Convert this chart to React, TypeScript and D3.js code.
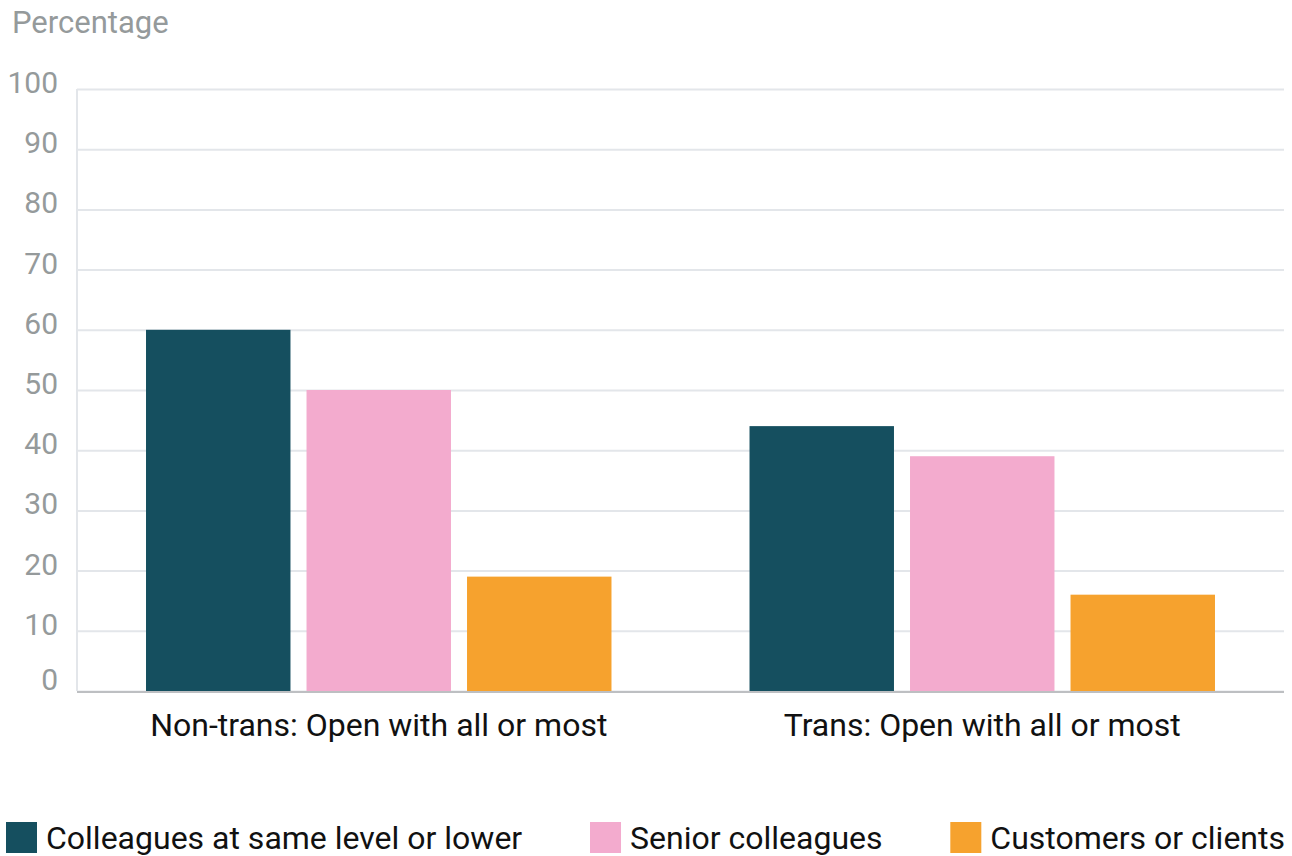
import React, { useRef, useEffect } from "react";
import * as d3 from "d3";

const WIDTH = 1292;
const HEIGHT = 856;
const MARGIN = { top: 89, right: 8, bottom: 165, left: 77 };

const categories = ["Non-trans: Open with all or most", "Trans: Open with all or most"];
const seriesNames = ["Colleagues at same level or lower", "Senior colleagues", "Customers or clients"];
const colleaguesLower = [60, 44];
const seniorColleagues = [50, 39];
const customers = [19, 16];
const seriesValues = [colleaguesLower, seniorColleagues, customers];
const colors = ["#154f5f", "#f3abce", "#f6a22e"];
const yTicks = [0, 10, 20, 30, 40, 50, 60, 70, 80, 90, 100];

export default function App() {
  const svgRef = useRef<SVGSVGElement | null>(null);

  useEffect(() => {
    document.body.style.margin = "0";
    const svg = d3.select(svgRef.current);
    svg.selectAll("*").remove();
    const font = "Roboto, 'Noto Sans', sans-serif";

    const x0 = d3
      .scaleBand()
      .domain(categories)
      .range([MARGIN.left, WIDTH - MARGIN.right])
      .paddingInner(0)
      .paddingOuter(0);
    const x1 = d3
      .scaleBand()
      .domain(seriesNames)
      .range([0, x0.bandwidth()])
      .paddingInner(0.1)
      .paddingOuter(0.43);
    const y = d3
      .scaleLinear()
      .domain([0, 100])
      .range([HEIGHT - MARGIN.bottom, MARGIN.top]);

    // Grid
    svg
      .append("g")
      .attr("class", "grid")
      .attr("transform", `translate(${MARGIN.left},0)`)
      .call(
        d3
          .axisLeft(y)
          .tickValues(yTicks)
          .tickSize(-(WIDTH - MARGIN.left - MARGIN.right))
          .tickFormat(() => "")
      );
    svg.selectAll(".grid line")
      .attr("stroke", "#e3e6ea")
      .attr("stroke-width", 2);
    svg.selectAll(".grid path").remove();

    // left axis line
    svg
      .append("line")
      .attr("x1", MARGIN.left)
      .attr("x2", MARGIN.left)
      .attr("y1", y(100))
      .attr("y2", y(0))
      .attr("stroke", "#e3e6ea")
      .attr("stroke-width", 2);

    // y labels
    svg
      .append("g")
      .selectAll("text")
      .data(yTicks)
      .enter()
      .append("text")
      .attr("x", 58)
      .attr("y", (d) => (d === 0 ? y(d) - 1 : y(d) + 4))
      .attr("text-anchor", "end")
      .attr("font-family", font)
      .attr("font-size", 30)
      .attr("fill", "#959a9b")
      .text((d) => d);

    svg
      .append("text")
      .attr("x", 12)
      .attr("y", 33)
      .attr("font-family", font)
      .attr("font-size", 31)
      .attr("fill", "#959a9b")
      .text("Percentage");

    // Bars
    const groups = svg
      .append("g")
      .selectAll("g")
      .data(categories)
      .enter()
      .append("g")
      .attr("transform", (d) => `translate(${x0(d)},0)`);
    groups
      .selectAll("rect")
      .data((_, i) => seriesNames.map((s, j) => ({ s, j, v: seriesValues[j][i] })))
      .enter()
      .append("rect")
      .attr("x", (d) => x1(d.s)!)
      .attr("width", x1.bandwidth())
      .attr("y", (d) => y(d.v))
      .attr("height", (d) => y(0) - y(d.v))
      .attr("fill", (d) => colors[d.j]);

    // bottom axis line
    svg
      .append("line")
      .attr("x1", MARGIN.left)
      .attr("x2", WIDTH - MARGIN.right)
      .attr("y1", y(0) + 1)
      .attr("y2", y(0) + 1)
      .attr("stroke", "#bdbfc2")
      .attr("stroke-width", 2);

    // category labels
    svg
      .append("g")
      .selectAll("text")
      .data(categories)
      .enter()
      .append("text")
      .attr("x", (d) => x0(d)! + x0.bandwidth() / 2)
      .attr("y", 736)
      .attr("text-anchor", "middle")
      .attr("font-family", font)
      .attr("font-size", 32)
      .attr("fill", "#111")
      .text((d) => d);

    // Legend, spread across full width
    const legend = svg.append("g");
    const items = legend
      .selectAll("g")
      .data(seriesNames)
      .enter()
      .append("g");
    items
      .append("rect")
      .attr("y", 822)
      .attr("width", 31)
      .attr("height", 31)
      .attr("fill", (_, i) => colors[i]);
    const texts = items
      .append("text")
      .attr("x", 40)
      .attr("y", 849)
      .attr("font-family", font)
      .attr("font-size", 32)
      .attr("fill", "#111")
      .text((d) => d);
    const widths = texts.nodes().map((n) => 40 + (n as SVGTextElement).getComputedTextLength());
    const left = 6;
    const right = WIDTH - 7;
    const total = d3.sum(widths);
    const gap = (right - left - total) / (widths.length - 1);
    let cx = left;
    items.each(function (_, i) {
      d3.select(this).attr("transform", `translate(${cx},0)`);
      cx += widths[i] + gap;
    });
  }, []);

  return <svg ref={svgRef} width={WIDTH} height={HEIGHT} style={{ display: "block", background: "#fff" }} />;
}
